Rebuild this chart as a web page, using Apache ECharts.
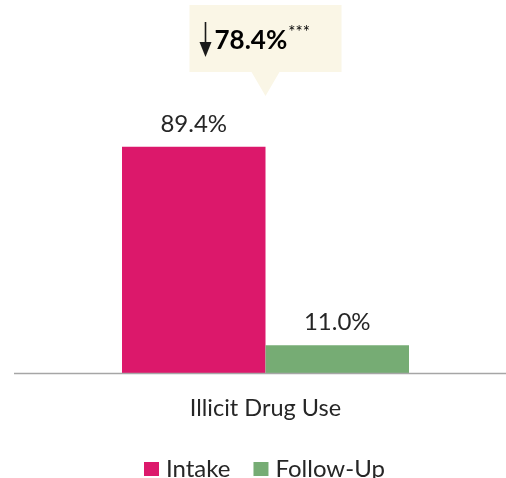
<!DOCTYPE html>
<html>
<head>
<meta charset="utf-8">
<script src="https://cdn.jsdelivr.net/npm/echarts@6/dist/echarts.min.js"></script>
<style>
  html, body { margin: 0; padding: 0; background: #fff; }
  #chart { width: 506px; height: 478px; }
</style>
</head>
<body>
<div id="chart"></div>
<script>
// Share of clients reporting illicit drug use, intake vs. follow-up
const categories = ['Illicit Drug Use'];
const seriesNames = ['Intake', 'Follow-Up'];
const intakeValues = [89.4];
const followUpValues = [11.0];
const significance = '***';

const FONT = 'Lato, "Open Sans", sans-serif';
const TEXT_COLOR = '#262626';
const COLORS = ['#DC186B', '#76AC74'];

const chart = echarts.init(document.getElementById('chart'), null, { renderer: 'canvas' });

const labelStyle = {
  show: true,
  position: 'top',
  distance: 11,
  fontFamily: FONT,
  fontSize: 24,
  color: TEXT_COLOR,
  formatter: p => p.value.toFixed(1) + '%'
};

chart.setOption({
  animation: false,
  color: COLORS,
  grid: { left: 25, right: 0, top: 120, bottom: 105, containLabel: false },
  xAxis: {
    type: 'category',
    data: categories,
    axisLine: { show: false },
    axisTick: { show: false },
    axisLabel: { fontFamily: FONT, fontSize: 23.5, color: TEXT_COLOR, margin: 23 }
  },
  yAxis: {
    type: 'value',
    min: 0,
    max: 100,
    show: false
  },
  legend: {
    data: seriesNames,
    top: 452,
    left: 139,
    itemWidth: 15,
    itemHeight: 14,
    itemGap: 23,
    icon: 'rect',
    textStyle: { fontFamily: FONT, fontSize: 24, color: TEXT_COLOR, padding: [0, 0, 0, 2] }
  },
  series: [
    { name: seriesNames[0], type: 'bar', data: intakeValues, barWidth: 143.5, barGap: '0%', label: labelStyle },
    { name: seriesNames[1], type: 'bar', data: followUpValues, barWidth: 143.5, barGap: '0%', label: labelStyle }
  ]
});

// Baseline across the plot plus the callout showing the drop from intake to follow-up
function drawOverlays() {
  const drop = (intakeValues[0] - followUpValues[0]).toFixed(1);
  const cx = chart.convertToPixel({ xAxisIndex: 0 }, categories[0]);
  const baseY = chart.convertToPixel({ yAxisIndex: 0 }, 0);
  const boxW = 152, boxH = 67, boxTop = 5, tipH = 24, tipHalf = 14;
  const left = cx - boxW / 2;
  const ax = left + 16;   // x of the down arrow
  chart.setOption({
    graphic: [
      {
        type: 'line',
        shape: { x1: 14, y1: baseY + 0.5, x2: 506, y2: baseY + 0.5 },
        style: { stroke: '#A6A6A6', lineWidth: 1.5 },
        z: 10
      },
      {
        type: 'group',
        children: [
          {
            type: 'rect',
            shape: { x: left, y: boxTop, width: boxW, height: boxH },
            style: { fill: '#FAF6E6' }
          },
          {
            type: 'polygon',
            shape: { points: [[cx - tipHalf, boxTop + boxH], [cx + tipHalf, boxTop + boxH], [cx, boxTop + boxH + tipH]] },
            style: { fill: '#FAF6E6' }
          },
          {
            type: 'line',
            shape: { x1: ax, y1: boxTop + 17, x2: ax, y2: boxTop + 44 },
            style: { stroke: '#1a1a1a', lineWidth: 1.6 }
          },
          {
            type: 'polygon',
            shape: { points: [[ax - 6, boxTop + 37], [ax + 6, boxTop + 37], [ax, boxTop + 52]] },
            style: { fill: '#1a1a1a' }
          },
          {
            type: 'text',
            x: left + 25,
            y: boxTop + 36,
            style: {
              text: '{b|' + drop + '%}{c|' + significance + '}',
              verticalAlign: 'middle',
              rich: {
                b: { fontFamily: FONT, fontSize: 26, fontWeight: 'bold', color: '#1a1a1a' },
                c: { fontFamily: FONT, fontSize: 17, color: '#1a1a1a', padding: [0, 0, 16, 1] }
              }
            }
          }
        ]
      }
    ]
  });
}
drawOverlays();
</script>
</body>
</html>
